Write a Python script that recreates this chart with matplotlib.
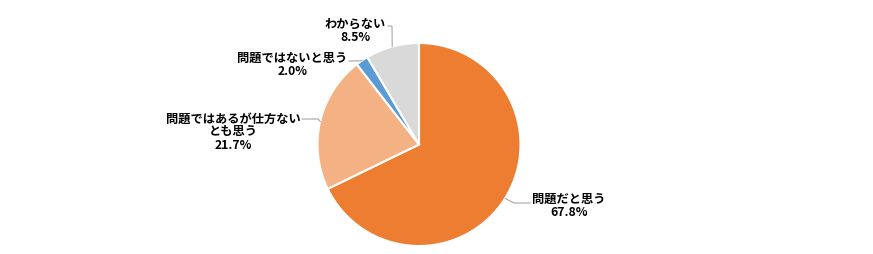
import matplotlib
matplotlib.use('Agg')
import matplotlib.pyplot as plt
import numpy as np

plt.rcParams['font.family'] = ['Noto Sans CJK JP', 'DejaVu Sans']

# data
labels = ['問題だと思う', '問題ではあるが仕方ない\nとも思う', '問題ではないと思う', 'わからない']
values = [67.8, 21.7, 2.0, 8.5]
colors = ['#ED7D31', '#F4B183', '#5B9BD5', '#D9D9D9']

# layout (pixel coords, y from bottom)
W, H = 873, 254
cx, cy, r = 419, H - 144.5, 101.5
label_pos = [(569, H - 206), (233, H - 132), (292.5, H - 65), (355, H - 30.5)]
elbows = [[(514, H - 203), (530, H - 203)],
          [(318, H - 119), (302, H - 119)],
          [(357, H - 61), (349, H - 61)],
          [(392, H - 26), (388, H - 26)]]

fig = plt.figure(figsize=(W / 100, H / 100), dpi=100)
ax = fig.add_axes([0, 0, 1, 1])

wedges, _ = ax.pie(values, colors=colors, startangle=90, counterclock=False,
                   center=(cx, cy), radius=r, frame=True,
                   wedgeprops=dict(edgecolor='white', linewidth=1.5))
ax.set_xlim(0, W)
ax.set_ylim(0, H)
ax.set_aspect('equal')
ax.axis('off')

for w, lab, v, pos, elb in zip(wedges, labels, values, label_pos, elbows):
    mid = np.deg2rad((w.theta1 + w.theta2) / 2)
    ex, ey = cx + r * np.cos(mid), cy + r * np.sin(mid)
    xs = [ex] + [p[0] for p in elb]
    ys = [ey] + [p[1] for p in elb]
    ax.plot(xs, ys, color='#A6A6A6', lw=0.8)
    ax.text(pos[0], pos[1], '%s\n%.1f%%' % (lab, v), ha='center', va='center',
            multialignment='center', fontsize=8.8, fontweight='bold',
            linespacing=1.02, color='black')

fig.savefig('out.png', dpi=100)
